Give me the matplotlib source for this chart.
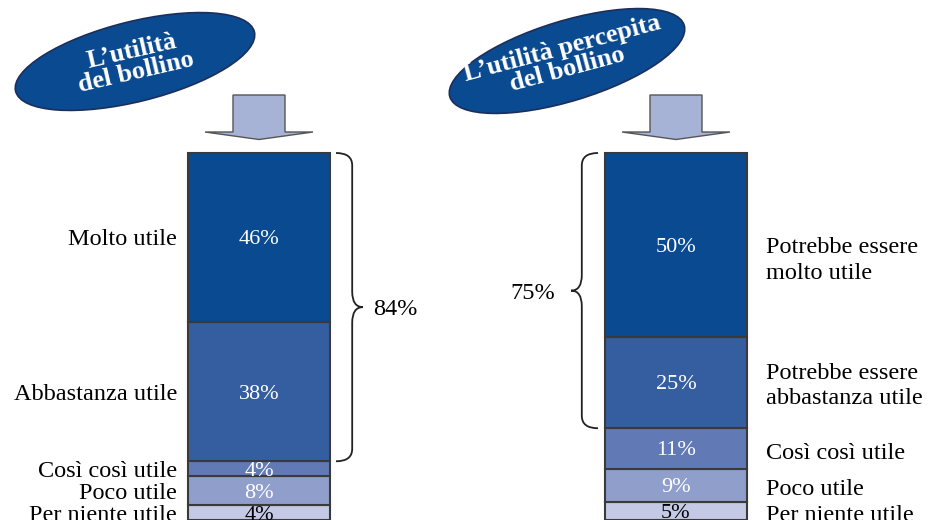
"""
Grafico a barre impilate: utilità del bollino e utilità percepita
"""

import matplotlib.pyplot as plt
from matplotlib.patches import Ellipse, Polygon, PathPatch
from matplotlib.path import Path

# categorie dal basso verso l'alto
utilita_labels = ['Per niente utile', 'Poco utile', 'Così così utile',
                  'Abbastanza utile', 'Molto utile']
utilita_values = [4, 8, 4, 38, 46]

percepita_labels = ['Per niente utile', 'Poco utile', 'Così così utile',
                    'Potrebbe essere\nabbastanza utile',
                    'Potrebbe essere\nmolto utile']
percepita_values = [5, 9, 11, 25, 50]

titles = ['L\u2019utilità\ndel bollino', 'L\u2019utilità percepita\ndel bollino']

colors = ['#c4c9e5', '#8f9ecb', '#6179b4', '#345e9f', '#0a4a90']
text_colors = ['black', 'white', 'white', 'white', 'white']

plt.rcParams['font.family'] = ['Liberation Serif', 'DejaVu Serif']

W, H = 931, 520
PX_PER_PCT = 3.67

fig = plt.figure(figsize=(W / 100, H / 100), dpi=100)

# assi delle barre: x in pixel, y in percentuale
ax = fig.add_axes([0, 0, 1, 1])
ax.set_xlim(0, W)
ax.set_ylim(0, H / PX_PER_PCT)
ax.axis('off')

# assi per le decorazioni (ellissi e frecce) in pixel, y verso il basso
deco = fig.add_axes([0, 0, 1, 1], zorder=3)
deco.set_xlim(0, W)
deco.set_ylim(H, 0)
deco.axis('off')


def draw_stack(x, values, labels, side):
    bottom = 0
    centers = []
    for v, c, tc in zip(values, colors, text_colors):
        ax.bar(x, v, bottom=bottom, width=142, color=c,
               edgecolor='#3a3a3a', linewidth=1.5, zorder=2)
        mid = bottom + v / 2
        centers.append(mid)
        ax.text(x, mid, f'{v}%', color=tc, fontsize=16,
                ha='center', va='center_baseline', zorder=4)
        bottom += v
    for i, (mid, lab) in enumerate(zip(centers, labels)):
        if side == 'left':
            ax.text(x - 82, mid, lab, fontsize=17.5, ha='right',
                    va='center_baseline')
        elif '\n' in lab:
            shift = -4.3 if i == len(labels) - 1 else -1.0
            ax.text(x + 90, mid + shift, lab, fontsize=17.5, ha='left',
                    va='center', linespacing=1.3)
        else:
            ax.text(x + 90, mid - 0.6, lab, fontsize=17.5, ha='left',
                    va='center_baseline')
    return centers


def brace(x0, y_lo, y_hi, width, direction):
    # parentesi graffa verticale, punta verso direction (+1 destra, -1 sinistra)
    xm = x0 + direction * width * 0.6
    xt = x0 + direction * width
    ymid = (y_lo + y_hi) / 2
    r_end = 3.4
    r_tip = 4.2
    verts = [
        (x0, y_hi), (xm, y_hi), (xm, y_hi - r_end),
        (xm, ymid + r_tip),
        (xm, ymid), (xt, ymid),
        (xm, ymid), (xm, ymid - r_tip),
        (xm, y_lo + r_end),
        (xm, y_lo), (x0, y_lo),
    ]
    codes = [Path.MOVETO, Path.CURVE3, Path.CURVE3,
             Path.LINETO,
             Path.CURVE3, Path.CURVE3,
             Path.CURVE3, Path.CURVE3,
             Path.LINETO,
             Path.CURVE3, Path.CURVE3]
    ax.add_patch(PathPatch(Path(verts, codes), fill=False,
                           edgecolor='#222222', linewidth=1.3))
    return xt, ymid


def title_badge(cx, cy, w, h, angle, text, tx, ty, rot):
    deco.add_patch(Ellipse((cx, cy), w, h, angle=-angle, facecolor='#0a4a90',
                           edgecolor='#1c2f5c', linewidth=1.2))
    deco.text(tx, ty, text, color='white', fontsize=19,
              fontweight='bold', ha='center', va='center', rotation=rot,
              linespacing=0.95)


def arrow(cx):
    pts = [(cx - 26, 95), (cx + 26, 95), (cx + 26, 132), (cx + 54, 132),
           (cx, 139.5), (cx - 54, 132), (cx - 26, 132)]
    deco.add_patch(Polygon(pts, closed=True, facecolor='#a6b3d6',
                           edgecolor='#555555', linewidth=1.0))


# pannello sinistro
draw_stack(259, utilita_values, utilita_labels, 'left')
top_two = sum(utilita_values[-2:])
lo = sum(utilita_values[:-2])
tx, ty = brace(336, lo, 100, 27, 1)
ax.text(tx + 10, ty, f'{top_two}%', fontsize=17.5, ha='left',
        va='center_baseline')

# pannello destro
draw_stack(676, percepita_values, percepita_labels, 'right')
top_two = sum(percepita_values[-2:])
lo = sum(percepita_values[:-2])
tx, ty = brace(598, lo, 100, 27, -1)
ax.text(tx - 16, ty, f'{top_two}%', fontsize=17.5, ha='right',
        va='center_baseline')

title_badge(135, 61.5, 246, 80, 14, titles[0], 134, 62, 13)
title_badge(567, 61, 245, 80, 17, titles[1], 565, 59, 15)
arrow(259)
arrow(676)

fig.savefig('out.png', dpi=100)
